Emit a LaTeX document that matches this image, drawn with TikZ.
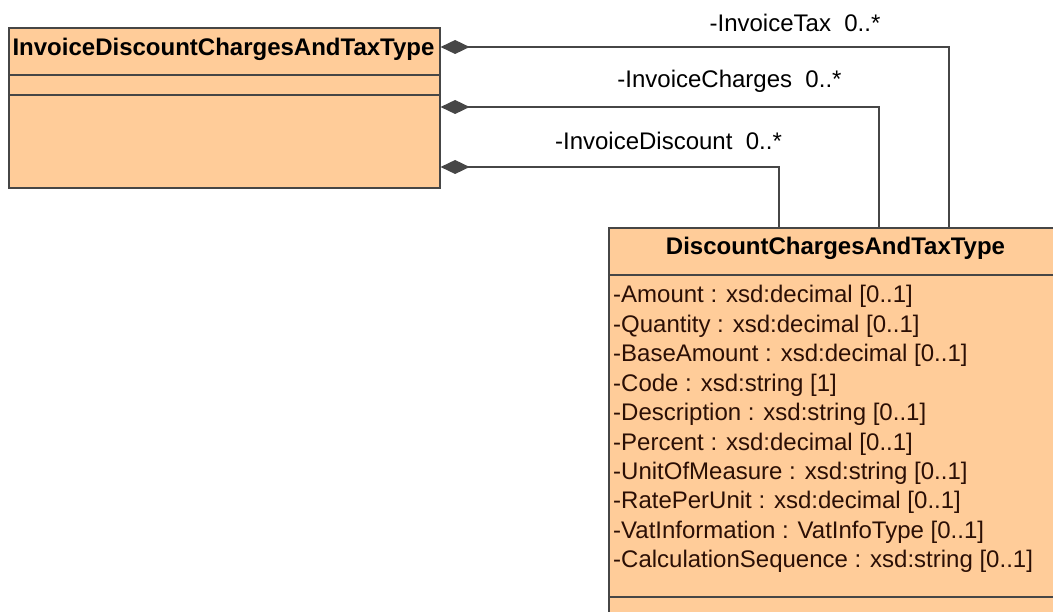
\documentclass[tikz,border=0pt]{standalone}
\usepackage{fontspec}
\setmainfont{Liberation Sans}
\usetikzlibrary{arrows.meta,calc}
\definecolor{classfill}{HTML}{FFCC99}
\definecolor{edgegray}{HTML}{464646}
\definecolor{attrtext}{HTML}{2B0F05}
\begin{document}
\begin{tikzpicture}[x=1pt,y=-1pt,
  classbox/.style={draw=edgegray,fill=classfill,line width=1.6pt,inner sep=0pt,anchor=north west},
  sepline/.style={draw=edgegray,line width=1.6pt},
  assoc/.style={draw=edgegray,line width=1.6pt,{Diamond[length=29pt,width=14pt,fill=edgegray,color=edgegray]}-},
  lbl/.style={font=\fontsize{24}{29}\selectfont,anchor=base,inner sep=0pt},
  ttl/.style={font=\fontsize{24}{29}\selectfont\bfseries,anchor=base,inner sep=0pt},
  attr/.style={font=\fontsize{24}{29}\selectfont,anchor=base west,inner sep=0pt,text=attrtext}]
\path[use as bounding box] (0,0) rectangle (1053,612);
\clip (0,0) rectangle (1053,612);

% left class
\node[classbox,minimum width=431pt,minimum height=160pt] (inv) at (8,27) {};
\draw[sepline] (inv.west |- 0,75) -- (inv.east |- 0,75);
\draw[sepline] (inv.west |- 0,95) -- (inv.east |- 0,95);
\node[ttl] (invtitle) at (223.5,56) {InvoiceDiscountChargesAndTaxType};

% right class
\node[classbox,minimum width=520pt,minimum height=430pt] (dct) at (608,227) {};
\draw[sepline] (dct.west |- 0,275) -- (dct.east |- 0,275);
\draw[sepline] (dct.west |- 0,597) -- (dct.east |- 0,597);
\node[ttl] (dcttitle) at (835.5,255) {DiscountChargesAndTaxType};

\node[attr] (a1) at (613,303.0) {-Amount : xsd:decimal [0..1]};
\node[attr] (a2) at (613,332.4) {-Quantity : xsd:decimal [0..1]};
\node[attr] (a3) at (613,361.8) {-BaseAmount : xsd:decimal [0..1]};
\node[attr] (a4) at (613,391.2) {-Code : xsd:string [1]};
\node[attr] (a5) at (613,420.6) {-Description : xsd:string [0..1]};
\node[attr] (a6) at (613,450.0) {-Percent : xsd:decimal [0..1]};
\node[attr] (a7) at (613,479.4) {-UnitOfMeasure : xsd:string [0..1]};
\node[attr] (a8) at (613,508.8) {-RatePerUnit : xsd:decimal [0..1]};
\node[attr] (a9) at (613,538.2) {-VatInformation : VatInfoType [0..1]};
\node[attr] (a10) at (613,567.6) {-CalculationSequence : xsd:string [0..1]};

% associations
\draw[assoc] (inv.east |- 0,47) -| (dct.north -| 949,0);
\draw[assoc] (inv.east |- 0,107) -| (dct.north -| 879,0);
\draw[assoc] (inv.east |- 0,167) -| (dct.north -| 779,0);

\node[lbl] (ltax) at (795,32) {-InvoiceTax\ \ 0..*};
\node[lbl] (lchg) at (729.5,88) {-InvoiceCharges\ \ 0..*};
\node[lbl] (ldis) at (668.5,150) {-InvoiceDiscount\ \ 0..*};
\end{tikzpicture}
\end{document}
